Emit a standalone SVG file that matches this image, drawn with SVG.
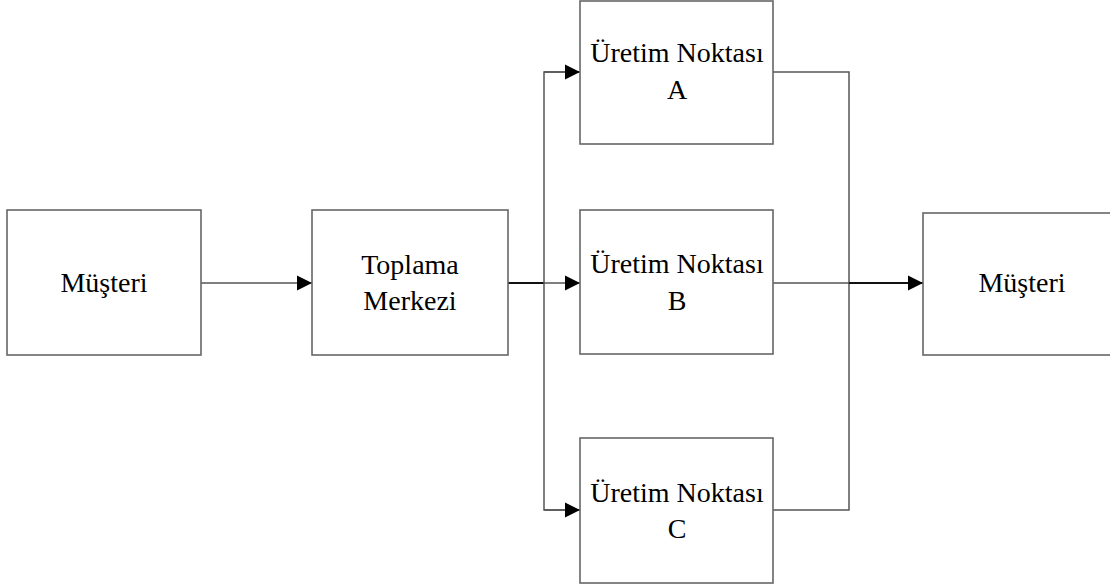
<svg xmlns="http://www.w3.org/2000/svg" width="1110" height="588" viewBox="0 0 1110 588">
  <defs>
    <marker id="arrow" markerUnits="userSpaceOnUse" markerWidth="16" markerHeight="16" refX="15" refY="8" orient="auto">
      <polygon points="0,0.5 15,8 0,15.5" fill="#000"/>
    </marker>
    <style>
      .box { fill: #fff; stroke: #666; stroke-width: 1.6; }
      .lbl { font-family: 'Liberation Serif', 'Times New Roman', 'DejaVu Serif', serif; font-size: 28px; fill: #000; text-anchor: middle; }
      .wire { fill: none; stroke: #555; stroke-width: 1.5; }
      .wire-dark { fill: none; stroke: #111; stroke-width: 2; }
    </style>
  </defs>

  <rect width="1110" height="588" fill="#fff"/>

  <!-- connectors -->
  <g id="connectors">
    <line class="wire" x1="201" y1="283" x2="312" y2="283" marker-end="url(#arrow)"/>
    <line class="wire-dark" x1="508" y1="283" x2="544" y2="283"/>
    <polyline class="wire" points="580,72 544,72 544,510 580,510"/>
    <line class="wire" x1="544" y1="72" x2="580" y2="72" marker-end="url(#arrow)"/>
    <line class="wire" x1="544" y1="283" x2="580" y2="283" marker-end="url(#arrow)"/>
    <line class="wire" x1="544" y1="510" x2="580" y2="510" marker-end="url(#arrow)"/>
    <polyline class="wire" points="773,72 849,72 849,510 773,510"/>
    <line class="wire" x1="773" y1="283" x2="849" y2="283"/>
    <line class="wire-dark" x1="849" y1="283" x2="923" y2="283" marker-end="url(#arrow)"/>
  </g>

  <g id="musteri-in">
    <rect class="box" x="7" y="210" width="194" height="145"/>
    <text class="lbl" x="104" y="292">Müşteri</text>
  </g>

  <g id="toplama-merkezi">
    <rect class="box" x="312" y="210" width="196" height="145"/>
    <text class="lbl" x="410" y="274">Toplama</text>
    <text class="lbl" x="410" y="310">Merkezi</text>
  </g>

  <g id="uretim-a">
    <rect class="box" x="580" y="1" width="193" height="143"/>
    <text class="lbl" x="677" y="62">Üretim Noktası</text>
    <text class="lbl" x="677" y="99">A</text>
  </g>

  <g id="uretim-b">
    <rect class="box" x="580" y="210" width="193" height="144"/>
    <text class="lbl" x="677" y="273">Üretim Noktası</text>
    <text class="lbl" x="677" y="310">B</text>
  </g>

  <g id="uretim-c">
    <rect class="box" x="580" y="438" width="193" height="145"/>
    <text class="lbl" x="677" y="502">Üretim Noktası</text>
    <text class="lbl" x="677" y="538">C</text>
  </g>

  <g id="musteri-out">
    <rect class="box" x="923" y="213" width="192" height="142"/>
    <text class="lbl" x="1022" y="292">Müşteri</text>
  </g>
</svg>
